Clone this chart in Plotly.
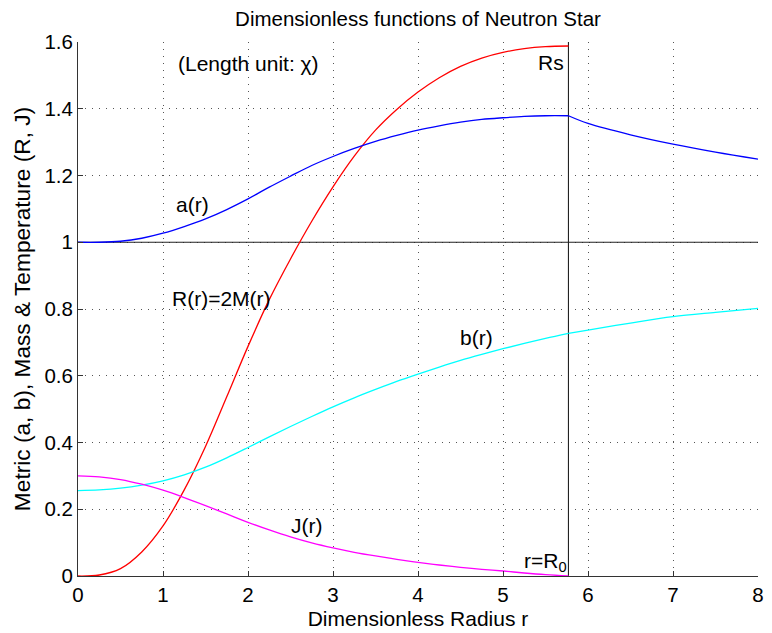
import plotly.graph_objects as go

# ---- data ----
Rs = 5.77

r_in = [0, 0.25, 0.5, 0.75, 1.0, 1.25, 1.5, 1.75, 2.0, 2.25, 2.5, 2.75, 3.0,
        3.25, 3.5, 3.75, 4.0, 4.25, 4.5, 4.75, 5.0, 5.25, 5.5, 5.77]
R_mass = [0, 0.003, 0.022, 0.072, 0.15, 0.258, 0.388, 0.537, 0.688, 0.828, 0.95,
          1.063, 1.166, 1.258, 1.336, 1.398, 1.45, 1.493, 1.527, 1.552, 1.569,
          1.58, 1.586, 1.588]
a_in = [1.0, 1.0, 1.003, 1.012, 1.027, 1.047, 1.07, 1.098, 1.13, 1.165, 1.198,
        1.23, 1.257, 1.281, 1.302, 1.32, 1.336, 1.349, 1.36, 1.368, 1.373, 1.377,
        1.379, 1.379]
b_in = [0.256, 0.258, 0.263, 0.272, 0.285, 0.303, 0.326, 0.354, 0.385, 0.417,
        0.448, 0.478, 0.507, 0.534, 0.559, 0.583, 0.605, 0.626, 0.646, 0.664,
        0.681, 0.697, 0.712, 0.727]
J_in = [0.30, 0.297, 0.289, 0.275, 0.257, 0.235, 0.211, 0.186, 0.161, 0.138,
        0.117, 0.099, 0.084, 0.071, 0.06, 0.05, 0.041, 0.033, 0.026, 0.02,
        0.015, 0.009, 0.004, 0.0]

r_out = [5.77, 6.0, 6.5, 7.0, 7.5, 8.0]
a_out = [1.379, 1.356, 1.322, 1.294, 1.270, 1.249]
b_out = [0.727, 0.737, 0.758, 0.777, 0.790, 0.802]

x_ticks = [0, 1, 2, 3, 4, 5, 6, 7, 8]
y_ticks = [0, 0.2, 0.4, 0.6, 0.8, 1.0, 1.2, 1.4, 1.6]

FONT = "Liberation Sans, Arial, sans-serif"

fig = go.Figure()

def line(x, y, color, width=1.3):
    fig.add_trace(go.Scatter(x=x, y=y, mode="lines",
                             line=dict(color=color, width=width, shape="spline", smoothing=1.0),
                             showlegend=False, hoverinfo="skip"))

# reference lines
fig.add_trace(go.Scatter(x=[0, 8], y=[1, 1], mode="lines",
                         line=dict(color="#222222", width=1.1), showlegend=False))
fig.add_trace(go.Scatter(x=[Rs, Rs], y=[0, 1.6], mode="lines",
                         line=dict(color="#222222", width=1.1), showlegend=False))

line(r_in, R_mass, "#FF0000")
line(r_in, a_in, "#0000FF")
line(r_out, a_out, "#0000FF")
line(r_in, b_in, "#00FFFF")
line(r_out, b_out, "#00FFFF")
line(r_in, J_in, "#FF00FF")

ann_font = dict(family=FONT, size=21, color="black")
annotations = [
    dict(x=1.17, y=1.537, text="(Length unit: χ)", xanchor="left", yanchor="middle"),
    dict(x=5.735, y=1.538, text="Rs", xanchor="right", yanchor="middle"),
    dict(x=1.347, y=1.112, text="a(r)", xanchor="center", yanchor="middle"),
    dict(x=1.694, y=0.83, text="R(r)=2M(r)", xanchor="center", yanchor="middle"),
    dict(x=4.694, y=0.715, text="b(r)", xanchor="center", yanchor="middle"),
    dict(x=2.688, y=0.15, text="J(r)", xanchor="center", yanchor="middle"),
    dict(x=5.76, y=0.0, text="r=R<sub>0</sub>", xanchor="right", yanchor="bottom"),
]
for a in annotations:
    a.update(xref="x", yref="y", showarrow=False, font=ann_font, borderpad=0)

grid = dict(showgrid=True, gridcolor="#555555", griddash="1px,6px", gridwidth=1)

# page body has an 8px default margin: figure is sized so it fills the 772x633 window
fig.update_layout(
    width=764, height=625,
    margin=dict(l=70, r=14, t=34, b=57),
    paper_bgcolor="white", plot_bgcolor="white",
    font=dict(family=FONT, size=20, color="black"),
    title=dict(text="Dimensionless functions of Neutron Star", x=0.5, xref="paper",
               xanchor="center", y=0.9824, yanchor="middle",
               font=dict(family=FONT, size=20.5, color="black")),
    annotations=annotations,
    xaxis=dict(range=[0, 8], tickvals=x_ticks, ticks="inside", ticklen=5, tickcolor="#333333",
               showline=True, linecolor="#333333", linewidth=1, mirror=False,
               zeroline=False, tickfont=dict(size=20.5), automargin=False,
               title=dict(text="Dimensionless Radius r", font=dict(size=21), standoff=6),
               **grid),
    yaxis=dict(range=[0, 1.6], tickvals=y_ticks, ticks="inside", ticklen=5, tickcolor="#333333",
               showline=True, linecolor="#333333", linewidth=1, mirror=False,
               zeroline=False, tickfont=dict(size=20.5), automargin=False,
               title=dict(text="Metric (a, b), Mass & Temperature (R, J)", font=dict(size=22.7),
                          standoff=7),
               **grid),
)

fig.write_html("out.html")
